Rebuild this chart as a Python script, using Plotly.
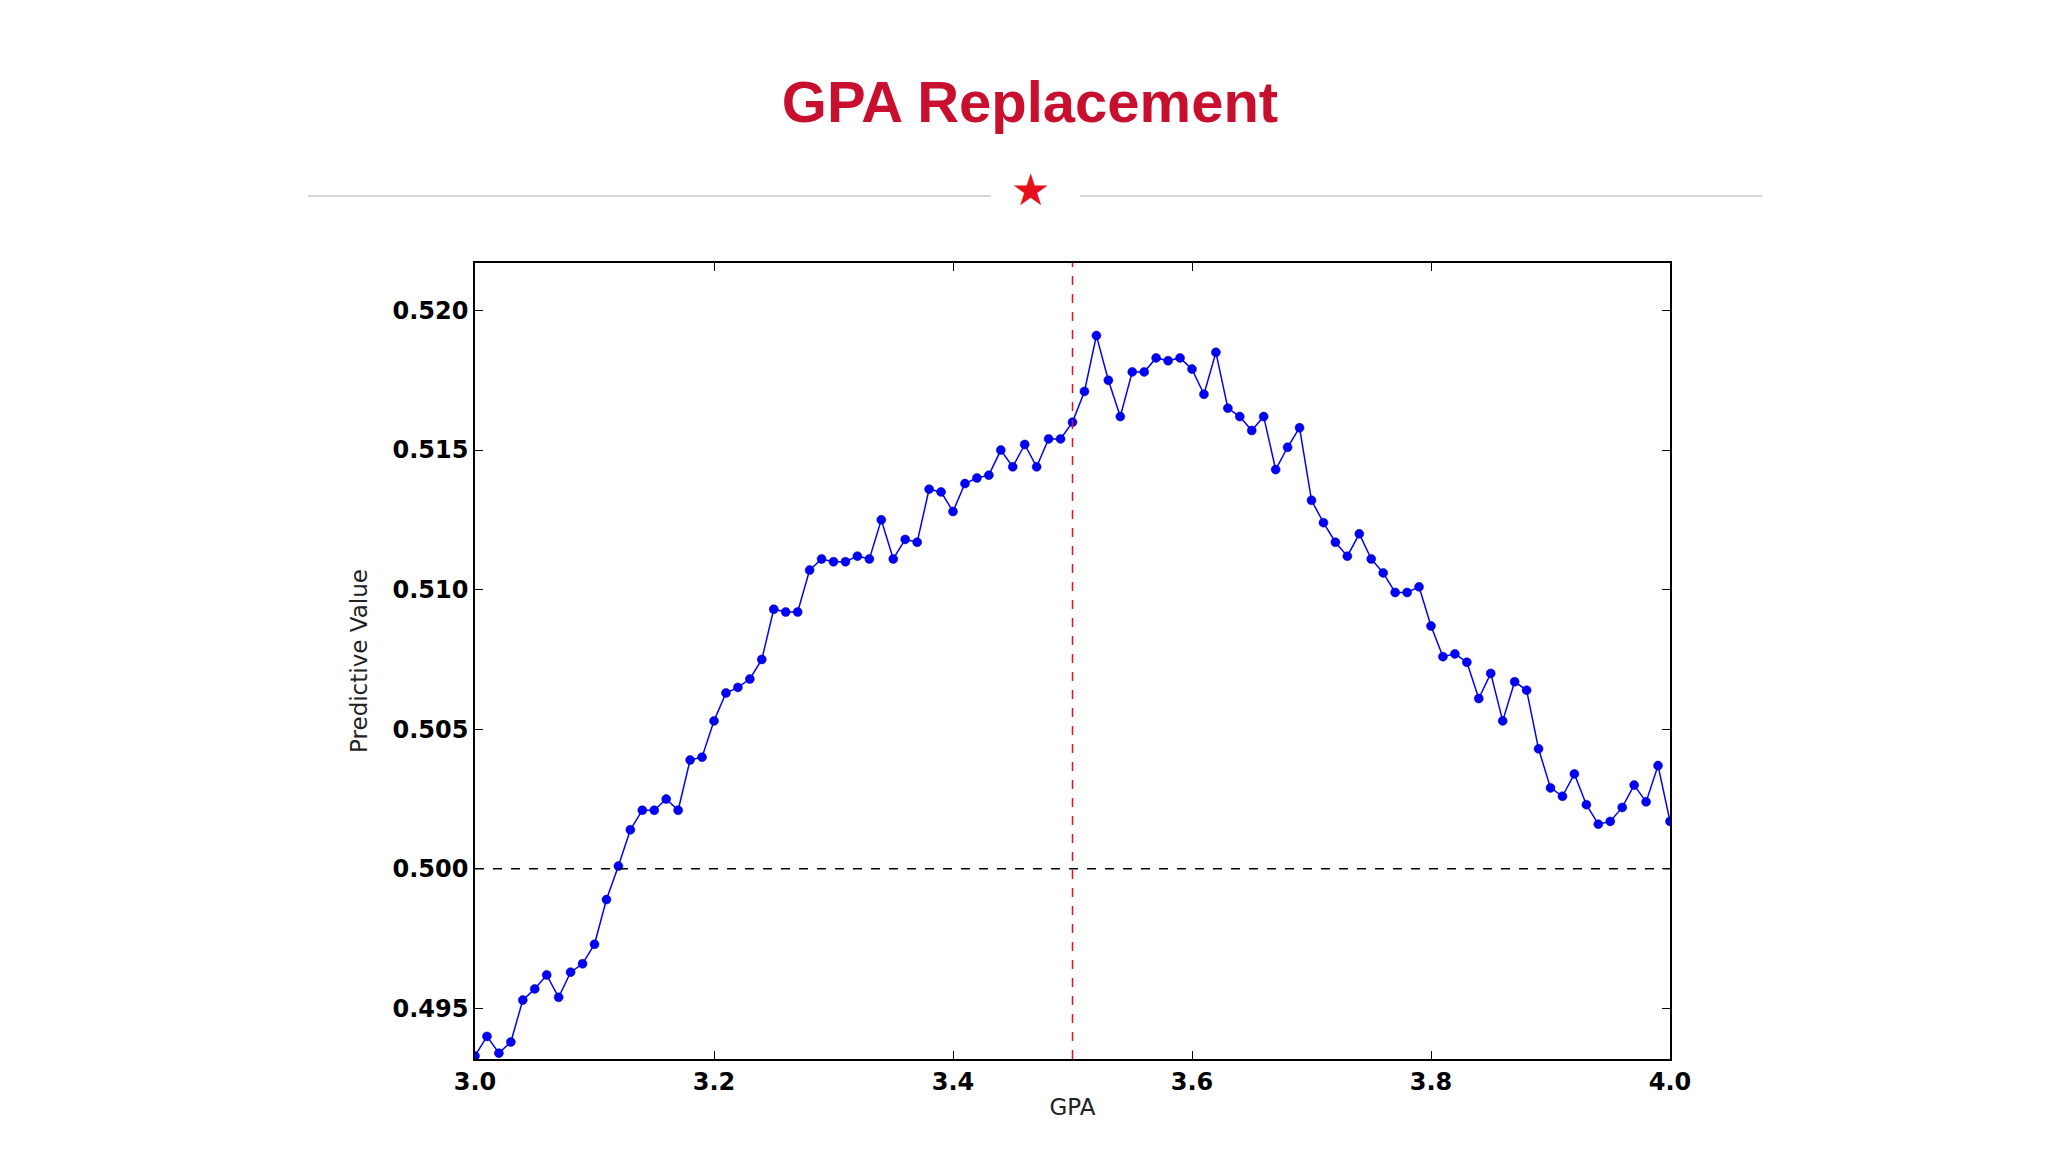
import plotly.graph_objects as go

gpa = [round(3.0 + i * 0.01, 2) for i in range(101)]
pred_value = [
    0.4933, 0.4940, 0.4934, 0.4938, 0.4953, 0.4957, 0.4962, 0.4954, 0.4963, 0.4966,
    0.4973, 0.4989, 0.5001, 0.5014, 0.5021, 0.5021, 0.5025, 0.5021, 0.5039, 0.5040,
    0.5053, 0.5063, 0.5065, 0.5068, 0.5075, 0.5093, 0.5092, 0.5092, 0.5107, 0.5111,
    0.5110, 0.5110, 0.5112, 0.5111, 0.5125, 0.5111, 0.5118, 0.5117, 0.5136, 0.5135,
    0.5128, 0.5138, 0.5140, 0.5141, 0.5150, 0.5144, 0.5152, 0.5144, 0.5154, 0.5154,
    0.5160, 0.5171, 0.5191, 0.5175, 0.5162, 0.5178, 0.5178, 0.5183, 0.5182, 0.5183,
    0.5179, 0.5170, 0.5185, 0.5165, 0.5162, 0.5157, 0.5162, 0.5143, 0.5151, 0.5158,
    0.5132, 0.5124, 0.5117, 0.5112, 0.5120, 0.5111, 0.5106, 0.5099, 0.5099, 0.5101,
    0.5087, 0.5076, 0.5077, 0.5074, 0.5061, 0.5070, 0.5053, 0.5067, 0.5064, 0.5043,
    0.5029, 0.5026, 0.5034, 0.5023, 0.5016, 0.5017, 0.5022, 0.5030, 0.5024, 0.5037,
    0.5017,
]
x_ticks = [3.0, 3.2, 3.4, 3.6, 3.8, 4.0]
y_ticks = [0.495, 0.500, 0.505, 0.510, 0.515, 0.520]
cutoff_gpa = 3.5
baseline = 0.5

W, H = 2048, 1152
L, R, T, B = 467, 1662, 255, 1051
rule_y = 188

fig = go.Figure()
fig.add_trace(go.Scatter(
    x=gpa, y=pred_value, mode="lines+markers",
    line=dict(color="#0000ff", width=1.5),
    marker=dict(color="#0000ff", size=9, line=dict(color="#00008b", width=0.5)),
    cliponaxis=True, showlegend=False))

fig.add_hline(y=baseline, line=dict(color="black", width=1.5, dash="dash"))
fig.add_vline(x=cutoff_gpa, line=dict(color="#e8101a", width=1.5, dash="dash"))

axis_common = dict(showgrid=False, zeroline=False, showline=True, linecolor="black",
                   linewidth=1.5, mirror="ticks", ticks="inside", ticklen=8,
                   tickcolor="black",
                   tickfont=dict(family="DejaVu Sans", size=24, color="black", weight="bold"),
                   title_font=dict(family="DejaVu Sans", size=23, color="#222"))
fig.update_xaxes(range=[3.0, 4.0], tickvals=x_ticks, ticktext=[f"{v:.1f}" for v in x_ticks],
                 title_text="GPA", title_standoff=4, **axis_common)
fig.update_yaxes(range=[0.49319, 0.5217], tickvals=y_ticks,
                 ticktext=[f"{v:.3f}" for v in y_ticks],
                 title_text="Predictive Value", title_standoff=18, **axis_common)

# header decoration
ry = (B - rule_y) / (B - T)
fig.add_shape(type="line", xref="paper", yref="paper",
              x0=(300 - L) / (R - L), x1=(983 - L) / (R - L), y0=ry, y1=ry,
              line=dict(color="#c8c8c8", width=1.5))
fig.add_shape(type="line", xref="paper", yref="paper",
              x0=(1072 - L) / (R - L), x1=(1754 - L) / (R - L), y0=ry, y1=ry,
              line=dict(color="#c8c8c8", width=1.5))
fig.add_annotation(text="★", xref="paper", yref="paper",
                   x=(1022 - L) / (R - L), y=ry, yshift=34,
                   showarrow=False, font=dict(size=44, color="#e8101a", family="DejaVu Sans"))

fig.update_layout(
    width=W, height=H,
    margin=dict(l=L, r=W - R, t=T, b=H - B),
    paper_bgcolor="white", plot_bgcolor="white",
    title=dict(text="<b>GPA Replacement</b>", x=(1022 / W), xanchor="center",
               y=1 - 94 / H, yanchor="middle",
               font=dict(family="Liberation Sans", size=58, color="#c8102e")),
)

fig.write_html("out.html")
